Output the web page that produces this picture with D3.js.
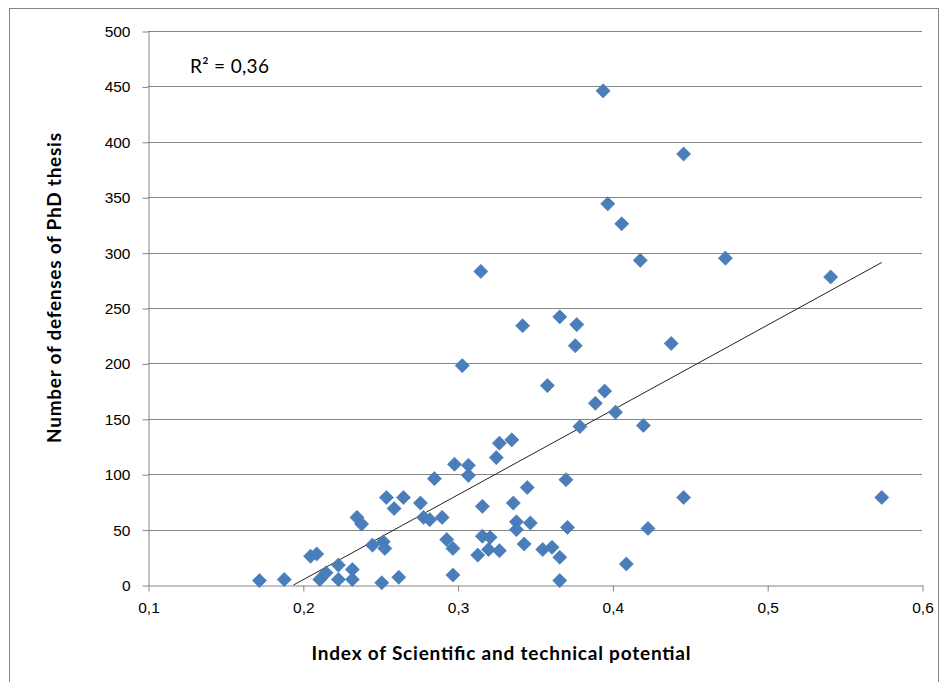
<!DOCTYPE html>
<title>scatter plot</title>
<style>
body { margin: 0; background: #fff; }
svg { display: block; font-family: Lato, "Open Sans", sans-serif; }
.grid line { stroke: #868686; stroke-width: 1; }
.axis path, .axis line { stroke: #868686; }
.axis text { font-size: 15.5px; fill: #000; }
</style>
<svg width="946" height="682"></svg>
<script src="https://d3js.org/d3.v7.min.js"></script>
<script>
// index of scientific and technical potential
var xValues = [0.172, 0.188, 0.205, 0.209, 0.211, 0.215, 0.223, 0.223, 0.232, 0.232,
  0.235, 0.238, 0.245, 0.252, 0.253, 0.251, 0.254, 0.259, 0.262, 0.265,
  0.276, 0.278, 0.282, 0.285, 0.290, 0.293, 0.297, 0.297, 0.298, 0.307,
  0.307, 0.313, 0.316, 0.316, 0.321, 0.320, 0.325, 0.327, 0.327, 0.335,
  0.336, 0.338, 0.338, 0.343, 0.345, 0.347, 0.355, 0.361, 0.366, 0.366,
  0.370, 0.371, 0.379, 0.389, 0.402, 0.420, 0.409, 0.423, 0.446, 0.303,
  0.315, 0.342, 0.358, 0.366, 0.377, 0.376, 0.395, 0.394, 0.446, 0.397,
  0.406, 0.418, 0.473, 0.438, 0.541, 0.574];
// number of defenses of PhD thesis
var yValues = [4, 5, 26, 28, 5, 11, 18, 5, 5, 14,
  61, 55, 36, 39, 33, 2, 79, 69, 7, 79,
  74, 61, 59, 96, 61, 41, 33, 9, 109, 108,
  99, 27, 71, 44, 43, 32, 115, 128, 31, 131,
  74, 57, 50, 37, 88, 56, 32, 34, 25, 4,
  95, 52, 143, 164, 156, 144, 19, 51, 79, 198,
  283, 234, 180, 242, 235, 216, 175, 446, 389, 344,
  326, 293, 295, 218, 278, 79];

var xTicks = [0.1, 0.2, 0.3, 0.4, 0.5, 0.6];
var xTickLabels = ["0,1", "0,2", "0,3", "0,4", "0,5", "0,6"];
var yTicks = [0, 50, 100, 150, 200, 250, 300, 350, 400, 450, 500];

// linear trend line
var trendSlope = 766;
var trendIntercept = -148.6;
var rSquaredText = "R\u00b2 = 0,36";

var svg = d3.select("svg");

// outer chart frame
svg.append("rect")
  .attr("x", 9.5).attr("y", 8.5)
  .attr("width", 929).attr("height", 700)
  .attr("fill", "none")
  .attr("stroke", "#868686");

var x = d3.scaleLinear().domain([0.1, 0.6]).range([148, 922]);
var y = d3.scaleLinear().domain([0, 500]).range([585, 31]);

// horizontal gridlines
svg.append("g")
  .attr("class", "grid")
  .selectAll("line")
  .data(yTicks.slice(1))
  .enter().append("line")
  .attr("x1", x(0.1)).attr("x2", x(0.6))
  .attr("y1", function(d) { return Math.round(y(d)) + 0.5; })
  .attr("y2", function(d) { return Math.round(y(d)) + 0.5; });

var yAxis = svg.append("g")
  .attr("class", "axis")
  .attr("transform", "translate(148.5,0.5)")
  .call(d3.axisLeft(y).tickValues(yTicks).tickSize(6).tickSizeOuter(0).tickPadding(12));

var xAxis = svg.append("g")
  .attr("class", "axis")
  .attr("transform", "translate(0.5," + (y(0) + 0.5) + ")")
  .call(d3.axisBottom(x).tickValues(xTicks).tickSize(6).tickSizeOuter(0).tickPadding(10)
    .tickFormat(function(d, i) { return xTickLabels[i]; }));

// trend line, clipped at y = 0
var tStart = -trendIntercept / trendSlope;
var tEnd = d3.max(xValues);
svg.append("line")
  .attr("x1", x(tStart)).attr("y1", y(trendSlope * tStart + trendIntercept))
  .attr("x2", x(tEnd)).attr("y2", y(trendSlope * tEnd + trendIntercept))
  .attr("stroke", "#222")
  .attr("stroke-width", 1);

var diamond = d3.symbol().type(d3.symbolSquare).size(100);

svg.append("g")
  .selectAll("path")
  .data(d3.range(xValues.length))
  .enter().append("path")
  .attr("d", diamond)
  .attr("transform", function(i) { return "translate(" + x(xValues[i]) + "," + y(yValues[i]) + ") rotate(45)"; })
  .attr("fill", "#4a7ebb")
  .attr("stroke", "#4577b3")
  .attr("stroke-width", 0.6);

svg.append("text")
  .attr("x", 190)
  .attr("y", 73)
  .attr("font-size", 19)
  .attr("textLength", 79)
  .text(rSquaredText);

svg.append("text")
  .attr("transform", "translate(61,288) rotate(-90)")
  .attr("text-anchor", "middle")
  .attr("font-size", 19)
  .attr("font-weight", "bold")
  .attr("textLength", 310)
  .text("Number of defenses of PhD thesis");

svg.append("text")
  .attr("x", 501)
  .attr("y", 660)
  .attr("text-anchor", "middle")
  .attr("font-size", 19)
  .attr("font-weight", "bold")
  .attr("textLength", 379)
  .text("Index of Scientific and technical potential");
</script>
